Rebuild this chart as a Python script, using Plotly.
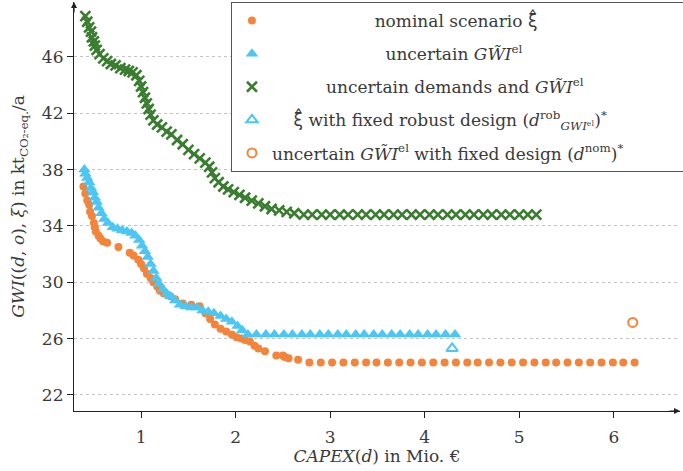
import plotly.graph_objects as go

# ---- data ----
nom_x = [0.39, 0.41, 0.43, 0.45, 0.46, 0.48, 0.50, 0.51, 0.52, 0.55, 0.57, 0.60, 0.64, 0.76, 0.88,
         0.92, 0.97, 1.00, 1.03, 1.06, 1.10, 1.13, 1.17, 1.20, 1.24, 1.31, 1.36, 1.44, 1.53, 1.62,
         1.68, 1.73, 1.78, 1.84, 1.90, 1.96, 2.01, 2.06, 2.10, 2.15, 2.20, 2.24, 2.31, 2.43, 2.50,
         2.52, 2.56, 2.66,
         2.78, 2.90, 3.02, 3.14, 3.26, 3.38, 3.49, 3.61, 3.73, 3.85, 3.97, 4.09, 4.21, 4.33, 4.45,
         4.56, 4.68, 4.80, 4.92, 5.04, 5.16, 5.28, 5.39, 5.51, 5.63, 5.75, 5.87, 5.99, 6.10, 6.22]
nom_y = [36.8, 36.3, 35.8, 35.5, 35.0, 34.7, 34.2, 33.9, 33.6, 33.3, 33.1, 32.9, 32.8, 32.5, 32.1,
         31.9, 31.6, 31.3, 31.0, 30.6, 30.3, 30.0, 29.7, 29.4, 29.2, 29.0, 28.8, 28.5, 28.4, 28.3,
         27.8, 27.4, 27.0, 26.7, 26.5, 26.3, 26.1, 26.0, 25.9, 25.8, 25.5, 25.3, 25.1, 24.8, 24.8,
         24.7, 24.6, 24.5,
         24.3, 24.3, 24.3, 24.3, 24.3, 24.3, 24.3, 24.3, 24.3, 24.3, 24.3, 24.3, 24.3, 24.3, 24.3,
         24.3, 24.3, 24.3, 24.3, 24.3, 24.3, 24.3, 24.3, 24.3, 24.3, 24.3, 24.3, 24.3, 24.3, 24.3]

gwi_x = [0.40, 0.41, 0.43, 0.45, 0.47, 0.49, 0.51, 0.53, 0.55, 0.58, 0.61, 0.65, 0.70, 0.75, 0.80,
         0.85, 0.90, 0.94, 0.98, 1.01, 1.04, 1.07, 1.10, 1.13, 1.16, 1.19, 1.23, 1.27, 1.31, 1.36,
         1.41, 1.47, 1.53, 1.59, 1.65, 1.71, 1.77, 1.84, 1.90, 1.96, 2.02, 2.07,
         2.13, 2.22, 2.32, 2.41, 2.51, 2.60, 2.70, 2.79, 2.89, 2.98, 3.08, 3.17, 3.27, 3.36, 3.46,
         3.55, 3.65, 3.74, 3.84, 3.93, 4.03, 4.12, 4.22, 4.32]
gwi_y = [38.0, 37.7, 37.4, 37.1, 36.7, 36.4, 36.0, 35.7, 35.3, 34.9, 34.5, 34.2, 33.9, 33.8, 33.7,
         33.6, 33.5, 33.3, 33.0, 32.6, 32.2, 31.8, 31.3, 30.8, 30.3, 29.9, 29.5, 29.2, 29.0, 28.7,
         28.4, 28.3, 28.2, 28.2, 28.0, 27.9, 27.8, 27.6, 27.4, 27.2, 26.9, 26.6,
         26.3, 26.3, 26.3, 26.3, 26.3, 26.3, 26.3, 26.3, 26.3, 26.3, 26.3, 26.3, 26.3, 26.3, 26.3,
         26.3, 26.3, 26.3, 26.3, 26.3, 26.3, 26.3, 26.3, 26.3]

dem_x = [0.41, 0.43, 0.45, 0.47, 0.48, 0.50, 0.51, 0.53, 0.56, 0.60, 0.64, 0.68, 0.73, 0.78, 0.83,
         0.87, 0.91, 0.95, 0.98, 1.00, 1.02, 1.04, 1.06, 1.08, 1.10, 1.13, 1.17, 1.22, 1.27, 1.32,
         1.38, 1.44, 1.50, 1.56, 1.62, 1.68, 1.72, 1.75, 1.78, 1.82, 1.87, 1.92, 1.98, 2.04, 2.10,
         2.17, 2.24, 2.31, 2.38, 2.46, 2.54, 2.62,
         2.72, 2.81, 2.91, 3.00, 3.10, 3.19, 3.29, 3.38, 3.48, 3.57, 3.67, 3.76, 3.86, 3.95, 4.05,
         4.14, 4.24, 4.33, 4.43, 4.52, 4.62, 4.71, 4.81, 4.90, 5.00, 5.09, 5.18]
dem_y = [48.9, 48.5, 48.1, 47.8, 47.4, 47.1, 46.8, 46.5, 46.2, 45.9, 45.7, 45.5, 45.4, 45.2, 45.1,
         45.0, 44.9, 44.7, 44.3, 43.9, 43.5, 43.1, 42.7, 42.3, 41.9, 41.5, 41.2, 41.0, 40.7, 40.5,
         40.1, 39.8, 39.4, 39.1, 38.8, 38.5, 38.2, 37.8, 37.4, 37.1, 36.8, 36.6, 36.4, 36.2, 36.0,
         35.8, 35.6, 35.4, 35.2, 35.1, 35.0, 34.9,
         34.8, 34.8, 34.8, 34.8, 34.8, 34.8, 34.8, 34.8, 34.8, 34.8, 34.8, 34.8, 34.8, 34.8, 34.8,
         34.8, 34.8, 34.8, 34.8, 34.8, 34.8, 34.8, 34.8, 34.8, 34.8, 34.8, 34.8]

rob_fixed_x = [4.29]
rob_fixed_y = [25.3]
nom_fixed_x = [6.20]
nom_fixed_y = [27.15]

y_ticks = [22, 26, 30, 34, 38, 42, 46]
x_ticks = [1, 2, 3, 4, 5, 6]

ORANGE = "#f4843a"
BLUE = "#4cc6f3"
GREEN = "#3a7d30"
FONT = "DejaVu Serif"
TXT = "#3a3a3a"
NB = "\u00a0"
XIHAT = "<span style='font-family:DejaVu Sans'>ξ\u0302</span>"

labels = [
    NB * 19 + "nominal scenario " + XIHAT,
    NB * 21 + "uncertain <i>GW̃I</i><sup>el</sup>",
    NB * 10 + "uncertain demands and <i>GW̃I</i><sup>el</sup>",
    NB * 4 + XIHAT + " with fixed robust design (<i>d</i><sup>rob</sup><sub><i>GWI</i>ᵉˡ</sub>)<sup>*</sup>",
    "uncertain <i>GW̃I</i><sup>el</sup> with fixed design (<i>d</i><sup>nom</sup>)<sup>*</sup>" + NB * 10,
]

fig = go.Figure()
fig.add_trace(go.Scatter(x=nom_x, y=nom_y, mode="markers", name=labels[0], legendgroup="a",
                         marker=dict(symbol="circle", size=8, color=ORANGE)))
fig.add_trace(go.Scatter(x=gwi_x, y=gwi_y, mode="markers", name=labels[1], legendgroup="b",
                         marker=dict(symbol="triangle-up", size=11, color=BLUE)))
fig.add_trace(go.Scatter(x=dem_x, y=dem_y, mode="markers", name=labels[2], legendgroup="c",
                         marker=dict(symbol="x-thin", size=10, color=GREEN,
                                     line=dict(color=GREEN, width=2.6))))
fig.add_trace(go.Scatter(x=rob_fixed_x, y=rob_fixed_y, mode="markers", name=labels[3], legendgroup="d",
                         marker=dict(symbol="triangle-up-open", size=10, color=BLUE,
                                     line=dict(color=BLUE, width=2))))
fig.add_trace(go.Scatter(x=nom_fixed_x, y=nom_fixed_y, mode="markers", name=labels[4], legendgroup="e",
                         marker=dict(symbol="circle-open", size=9, color=ORANGE,
                                     line=dict(color=ORANGE, width=2))))

axis_common = dict(showline=True, linecolor="#222", linewidth=1.2, ticks="outside",
                   ticklen=6, tickcolor="#222", tickfont=dict(family=FONT, size=17, color=TXT),
                   zeroline=False, automargin=False)
fig.update_xaxes(range=[0.29, 6.70], tickvals=x_ticks, showgrid=False, ticklabelstandoff=4,
                 title=dict(text="<i>CAPEX</i>(<i>d</i>) in Mio. €",
                            font=dict(family=FONT, size=17, color=TXT), standoff=2),
                 **axis_common)
fig.update_yaxes(range=[20.86, 49.9], tickvals=y_ticks, showgrid=True, gridcolor="#c4c4c4",
                 griddash="dot", gridwidth=1,
                 title=dict(text="<i>GWI</i>((<i>d</i>, <i>o</i>), <i>ξ</i>) in kt<sub>CO₂-eq.</sub>/a",
                            font=dict(family=FONT, size=17, color=TXT), standoff=12),
                 **axis_common)

fig.update_layout(
    width=683, height=471,
    margin=dict(l=74, r=3, t=2, b=60, autoexpand=False),
    plot_bgcolor="white", paper_bgcolor="white",
    font=dict(family=FONT, size=17, color=TXT),
    showlegend=True,
    legend=dict(x=0.259, y=1.0, xanchor="left", yanchor="top", bgcolor="white",
                bordercolor="#555", borderwidth=1, tracegroupgap=8,
                font=dict(family=FONT, size=17, color=TXT)),
)

# axis arrow heads
fig.add_annotation(x=0, y=1, xref="paper", yref="paper", ax=0, ay=12, axref="pixel", ayref="pixel",
                   text="", showarrow=True, arrowhead=2, arrowsize=1, arrowwidth=1.2, arrowcolor="#222")
fig.add_annotation(x=1, y=0, xref="paper", yref="paper", ax=-12, ay=0, axref="pixel", ayref="pixel",
                   text="", showarrow=True, arrowhead=2, arrowsize=1, arrowwidth=1.2, arrowcolor="#222")

fig.write_html("out.html", config={"displayModeBar": False},
               post_script="document.body.style.margin='0';document.documentElement.style.margin='0';")
